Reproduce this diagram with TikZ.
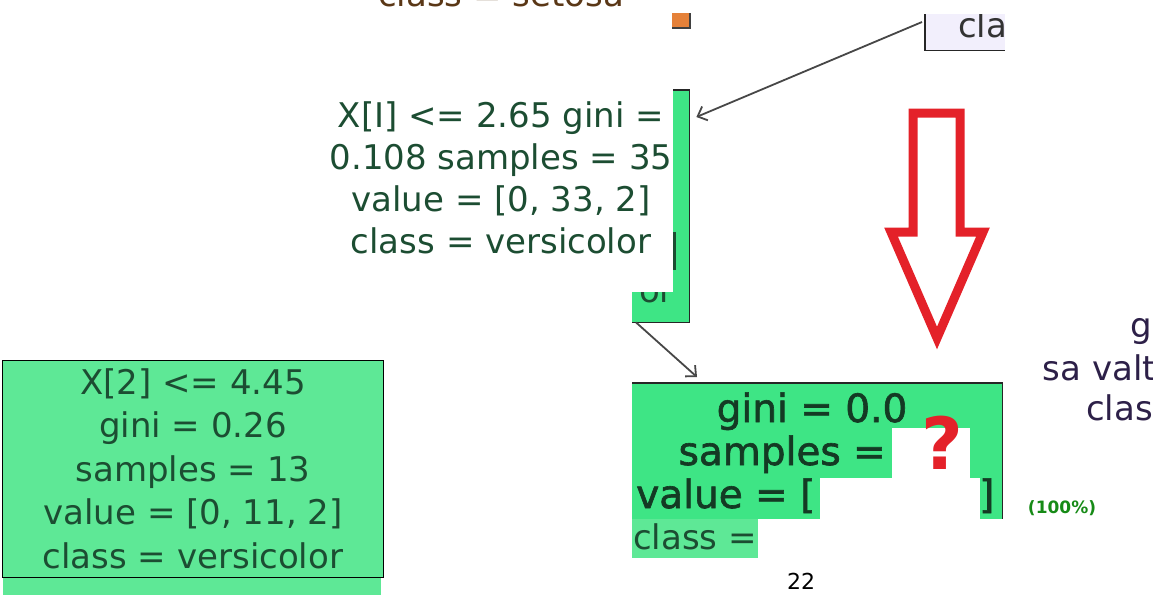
\documentclass[tikz,border=0pt]{standalone}
\usepackage{fontspec}
\setmainfont{DejaVu Sans}
\newfontfamily\leaffont[FakeBold=1.6]{DejaVu Sans}
\usetikzlibrary{arrows.meta}
\definecolor{leafgreen}{HTML}{5EE896}
\definecolor{puregreen}{HTML}{3EE585}
\definecolor{labelgreen}{HTML}{1C4D32}
\definecolor{darkgreen}{HTML}{143A24}
\definecolor{setosabrown}{HTML}{5A3716}
\definecolor{setosaorange}{HTML}{E58139}
\definecolor{rootlilac}{HTML}{F2EFFC}
\definecolor{hintred}{HTML}{E42129}
\definecolor{pctgreen}{HTML}{168A16}
\definecolor{plumtext}{HTML}{2D2048}
\begin{document}
\begin{tikzpicture}[x=1pt, y=-1pt, big/.style={font=\fontsize{34}{42}\selectfont, inner sep=0pt},
tree node/.style={fill=puregreen, inner sep=0pt, anchor=north west},
leaf text/.style={font=\leaffont\fontsize{39}{43}\selectfont, text=darkgreen, inner sep=0pt},
tree arrow/.style={draw=black!72, line width=1.8pt, -{Straight Barb[length=8pt,width=15pt]}},
rim/.style={line width=1.5pt, draw=black!85}]
\useasboundingbox (0,0) rectangle (1153,595);
\clip (0,0) rectangle (1153,595);
% top
\node[big, text=setosabrown, anchor=base] (setosa) at (501,6) {class = setosa};
\fill[setosaorange] (672,13) rectangle (690,28);
\draw[black!75, line width=1.5pt] (690,13) -- (690,28) -- (672,28);
\node[fill=rootlilac, minimum width=80pt, minimum height=36pt, inner sep=0pt, anchor=north west] (root) at (925,14) {};
\begin{scope}
\clip (root.north west) rectangle (root.south east);
\node[big, text=black!80, anchor=base west] (rootclass) at (958,37) {class};
\end{scope}
\draw[rim] (root.north west) -- (root.south west) -- (root.south east);
% middle node, mostly covered
\node[tree node, minimum width=57pt, minimum height=232pt] (split) at (632,90) {};
\draw[rim] (split.north west) -- (split.north east) -- (split.south east) -- (split.south west);
\fill[labelgreen] (673,232) rectangle (676,270);
\begin{scope}
\clip (632,292) rectangle (673,322);
\node[big, text=labelgreen, anchor=base east] (splitrest) at (674,302) {or};
\end{scope}
\fill[white] (615,84) rectangle (673,292);
\node[big, text=labelgreen, align=center] (splittext) at (501,178) {X[I] <= 2.65 gini =\\0.108 samples = 35\\value = [0, 33, 2]\\class = versicolor};
\draw[tree arrow] ([shift={(-3,8)}]root.north west) -- ([shift={(7,27)}]split.north east);
% red arrow
\draw[hintred, line width=9pt, line join=miter] (913,113) -- (960,113) -- (960,232) -- (983,232) -- (937,338) -- (891,232) -- (913,232) -- cycle;
% leaf
\node[tree node, minimum width=370pt, minimum height=136pt] (leaf) at (632,383) {};
\draw[rim] (leaf.north west) -- (leaf.north east) -- (leaf.south east);
\draw[tree arrow] ([shift={(4,0)}]split.south west) -- ([shift={(65,-6)}]leaf.north west);
\node[leaf text, anchor=base] (gini) at (812,422) {gini = 0.0};
\node[leaf text, anchor=base east] (samples) at (886,465) {samples =};
\node[leaf text, anchor=base west] (value) at (636,508) {value = [};
\node[leaf text, anchor=base west] (close) at (979,508) {]};
\fill[white] (892,428) rectangle (970,519);
\fill[white] (820,478) rectangle (980,519);
\node[font=\bfseries\fontsize{72}{72}\selectfont, text=hintred, inner sep=0pt] (hint) at (942,443) {?};
\fill[leafgreen] (632,519) rectangle (758,558);
\node[big, text=labelgreen, anchor=base west] (leafclass) at (633,549) {class =};
\node[font=\bfseries\fontsize{17}{17}\selectfont, text=pctgreen, anchor=base] (pct) at (1062,513) {(100\%)};
% right fragments
\node[big, text=plumtext, anchor=base east] (r1) at (1152,337) {g};
\node[big, text=plumtext, anchor=base east] (r2) at (1156,380) {sa valt};
\node[big, text=plumtext, anchor=base east] (r3) at (1153,420) {clas};
% left node
\fill[leafgreen] (3,577) rectangle (381,595);
\node[draw=black, line width=1pt, fill=leafgreen, minimum width=381pt, minimum height=217pt, inner sep=0pt, text=labelgreen, align=center, font=\fontsize{34}{43.5}\selectfont] (split2) at (193,468.5) {X[2] <= 4.45\\gini = 0.26\\samples = 13\\value = [0, 11, 2]\\class = versicolor};
\node[font=\fontsize{22}{22}\selectfont, anchor=base] (pagenum) at (801,589) {22};
\end{tikzpicture}
\end{document}
